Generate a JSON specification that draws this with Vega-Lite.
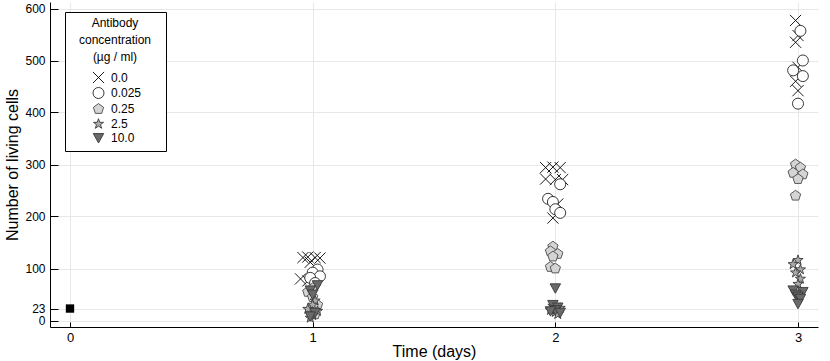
{
  "$schema": "https://vega.github.io/schema/vega-lite/v6.json",
  "width": 768,
  "height": 325,
  "autosize": {"type": "none"},
  "padding": {"left": 50, "top": 2, "right": 12, "bottom": 34},
  "background": "white",
  "config": {"font": "Liberation Sans", "view": {"stroke": null}},
  "encoding": {
    "x": {
      "field": "day", "type": "quantitative",
      "scale": {"domain": [-0.0824, 3.0824], "nice": false, "zero": false},
      "axis": {"values": [0, 1, 2, 3], "title": "Time (days)", "titleFontSize": 16, "titleFontWeight": "normal", "titleColor": "black", "titlePadding": -1,
        "labelFontSize": 13, "labelColor": "black", "labelPadding": 9, "tickSize": -5, "tickColor": "black", "domainColor": "black", "gridColor": "#e8e8e8", "labelFlush": false}
    },
    "y": {
      "field": "cells", "type": "quantitative",
      "scale": {"domain": [-12.5, 612.5], "nice": false, "zero": false},
      "axis": {"values": [0, 23, 100, 200, 300, 400, 500, 600], "title": "Number of living cells", "titleFontSize": 16, "titleFontWeight": "normal", "titleColor": "black", "titlePadding": 4,
        "labelFontSize": 12, "labelColor": "black", "labelPadding": 13, "tickSize": -8, "tickColor": "black", "domainColor": "black", "gridColor": "#e8e8e8", "labelFlush": false, "labelOverlap": false}
    }
  },
  "layer": [
    {
      "data": {"values": [{"day": 0, "cells": 23}]},
      "mark": {"type": "point", "shape": "square", "filled": true, "color": "black", "size": 70, "opacity": 1}
    },
    {
      "data": {"values": [
        {"day": 0.96, "cells": 121, "conc": "0.0"},
        {"day": 0.98, "cells": 122, "conc": "0.0"},
        {"day": 1.01, "cells": 121, "conc": "0.0"},
        {"day": 1.03, "cells": 120, "conc": "0.0"},
        {"day": 0.99, "cells": 112, "conc": "0.0"},
        {"day": 0.95, "cells": 80, "conc": "0.0"},
        {"day": 0.98, "cells": 76, "conc": "0.0"},
        {"day": 1.02, "cells": 98, "conc": "0.025"},
        {"day": 1.0, "cells": 92, "conc": "0.025"},
        {"day": 1.03, "cells": 85, "conc": "0.025"},
        {"day": 0.99, "cells": 82, "conc": "0.025"},
        {"day": 1.01, "cells": 72, "conc": "0.025"},
        {"day": 1.0, "cells": 62, "conc": "0.25"},
        {"day": 0.98, "cells": 55, "conc": "0.25"},
        {"day": 1.0, "cells": 45, "conc": "0.25"},
        {"day": 1.02, "cells": 30, "conc": "0.25"},
        {"day": 0.99, "cells": 20, "conc": "0.25"},
        {"day": 1.01, "cells": 12, "conc": "0.25"},
        {"day": 1.01, "cells": 38, "conc": "2.5"},
        {"day": 1.0, "cells": 30, "conc": "2.5"},
        {"day": 0.98, "cells": 22, "conc": "2.5"},
        {"day": 1.02, "cells": 18, "conc": "2.5"},
        {"day": 1.0, "cells": 10, "conc": "2.5"},
        {"day": 0.99, "cells": 5, "conc": "2.5"},
        {"day": 1.02, "cells": 68, "conc": "10.0"},
        {"day": 0.99, "cells": 58, "conc": "10.0"},
        {"day": 1.0, "cells": 50, "conc": "10.0"},
        {"day": 1.01, "cells": 15, "conc": "10.0"},
        {"day": 0.99, "cells": 8, "conc": "10.0"},
        {"day": 1.96, "cells": 294, "conc": "0.0"},
        {"day": 1.99, "cells": 295, "conc": "0.0"},
        {"day": 2.02, "cells": 294, "conc": "0.0"},
        {"day": 1.96, "cells": 272, "conc": "0.0"},
        {"day": 2.0, "cells": 271, "conc": "0.0"},
        {"day": 2.03, "cells": 271, "conc": "0.0"},
        {"day": 2.01, "cells": 224, "conc": "0.0"},
        {"day": 1.99, "cells": 197, "conc": "0.0"},
        {"day": 2.02, "cells": 262, "conc": "0.025"},
        {"day": 1.97, "cells": 234, "conc": "0.025"},
        {"day": 1.99, "cells": 228, "conc": "0.025"},
        {"day": 2.0, "cells": 214, "conc": "0.025"},
        {"day": 2.02, "cells": 207, "conc": "0.025"},
        {"day": 1.99, "cells": 142, "conc": "0.25"},
        {"day": 1.98, "cells": 133, "conc": "0.25"},
        {"day": 2.01, "cells": 128, "conc": "0.25"},
        {"day": 1.99, "cells": 123, "conc": "0.25"},
        {"day": 1.98, "cells": 103, "conc": "0.25"},
        {"day": 2.0, "cells": 100, "conc": "0.25"},
        {"day": 1.99, "cells": 28, "conc": "2.5"},
        {"day": 2.02, "cells": 24, "conc": "2.5"},
        {"day": 1.98, "cells": 20, "conc": "2.5"},
        {"day": 2.0, "cells": 16, "conc": "2.5"},
        {"day": 2.01, "cells": 12, "conc": "2.5"},
        {"day": 2.0, "cells": 62, "conc": "10.0"},
        {"day": 1.99, "cells": 30, "conc": "10.0"},
        {"day": 2.01, "cells": 25, "conc": "10.0"},
        {"day": 2.0, "cells": 20, "conc": "10.0"},
        {"day": 1.98, "cells": 18, "conc": "10.0"},
        {"day": 2.02, "cells": 15, "conc": "10.0"},
        {"day": 2.99, "cells": 577, "conc": "0.0"},
        {"day": 3.0, "cells": 548, "conc": "0.0"},
        {"day": 2.99, "cells": 535, "conc": "0.0"},
        {"day": 3.0, "cells": 487, "conc": "0.0"},
        {"day": 2.99, "cells": 460, "conc": "0.0"},
        {"day": 3.0, "cells": 442, "conc": "0.0"},
        {"day": 3.01, "cells": 557, "conc": "0.025"},
        {"day": 3.02, "cells": 500, "conc": "0.025"},
        {"day": 2.98, "cells": 481, "conc": "0.025"},
        {"day": 3.02, "cells": 470, "conc": "0.025"},
        {"day": 3.0, "cells": 417, "conc": "0.025"},
        {"day": 2.99, "cells": 300, "conc": "0.25"},
        {"day": 3.01, "cells": 294, "conc": "0.25"},
        {"day": 2.98, "cells": 284, "conc": "0.25"},
        {"day": 3.02, "cells": 281, "conc": "0.25"},
        {"day": 3.0, "cells": 272, "conc": "0.25"},
        {"day": 2.99, "cells": 240, "conc": "0.25"},
        {"day": 3.0, "cells": 116, "conc": "2.5"},
        {"day": 2.98, "cells": 108, "conc": "2.5"},
        {"day": 3.01, "cells": 98, "conc": "2.5"},
        {"day": 2.99, "cells": 92, "conc": "2.5"},
        {"day": 3.01, "cells": 80, "conc": "2.5"},
        {"day": 3.0, "cells": 70, "conc": "2.5"},
        {"day": 2.98, "cells": 58, "conc": "10.0"},
        {"day": 3.02, "cells": 55, "conc": "10.0"},
        {"day": 2.99, "cells": 50, "conc": "10.0"},
        {"day": 3.0, "cells": 46, "conc": "10.0"},
        {"day": 3.01, "cells": 42, "conc": "10.0"},
        {"day": 3.0, "cells": 32, "conc": "10.0"}
      ]},
      "mark": {"type": "point", "filled": true, "opacity": 1, "strokeWidth": 0.9},
      "encoding": {
        "shape": {
          "field": "conc", "type": "nominal", "title": ["Antibody", "concentration", "(µg / ml)"],
          "scale": {"domain": ["0.0", "0.025", "0.25", "2.5", "10.0"],
            "range": ["M-1,-1L1,1M-1,1L1,-1", "circle", "M0,-1L0.951,-0.309L0.588,0.809L-0.588,0.809L-0.951,-0.309Z", "M0,-1L0.235,-0.324L0.951,-0.309L0.38,0.124L0.588,0.809L0,0.4L-0.588,0.809L-0.38,0.124L-0.951,-0.309L-0.235,-0.324Z", "M-1,-0.85L1,-0.85L0,0.95Z"]},
          "legend": {"orient": "none", "legendX": 15, "legendY": 10, "strokeColor": "black", "fillColor": "white", "padding": 6, "cornerRadius": 0,
            "titleFontSize": 12, "titleFontWeight": "normal", "titleColor": "black", "titleAlign": "center", "titleAnchor": "middle", "titleLineHeight": 17, "titlePadding": 7,
            "labelFontSize": 12, "labelColor": "black", "rowPadding": 0, "symbolOffset": 21, "labelOffset": 6, "symbolStrokeWidth": 0.9,
            "labelExpr": "datum.label + '\u2800\u2800'"}
        },
        "fill": {
          "field": "conc", "type": "nominal", "title": ["Antibody", "concentration", "(µg / ml)"],
          "scale": {"domain": ["0.0", "0.025", "0.25", "2.5", "10.0"], "range": ["transparent", "white", "#d4d4d4", "#ababab", "#6a6a6a"]}
        },
        "stroke": {
          "field": "conc", "type": "nominal", "title": ["Antibody", "concentration", "(µg / ml)"],
          "scale": {"domain": ["0.0", "0.025", "0.25", "2.5", "10.0"], "range": ["black", "#222222", "#4a4a4a", "#3a3a3a", "#3a3a3a"]}
        },
        "size": {
          "field": "conc", "type": "nominal", "title": ["Antibody", "concentration", "(µg / ml)"],
          "scale": {"domain": ["0.0", "0.025", "0.25", "2.5", "10.0"], "range": [125, 110, 180, 200, 200]}
        }
      }
    }
  ]
}
